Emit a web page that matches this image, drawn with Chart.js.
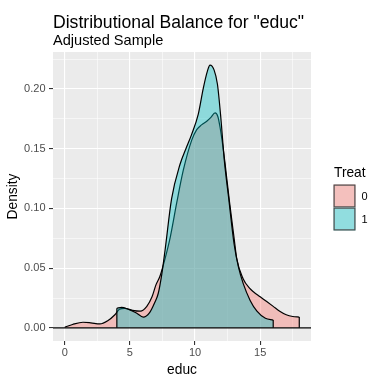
<!DOCTYPE html>
<html><head><meta charset="utf-8">
<script src="https://cdn.jsdelivr.net/npm/chart.js@4/dist/chart.umd.min.js"></script>
<style>html,body{margin:0;padding:0;background:#fff}#wrap{position:relative;width:384px;height:384px}</style>
</head><body><div id="wrap"><canvas id="c" width="384" height="384"></canvas></div>
<script>
const titleText = 'Distributional Balance for "educ"';
const subtitleText = 'Adjusted Sample';
const xLabel = 'educ';
const yLabel = 'Density';
const legendTitle = 'Treat';
const groups = ['0', '1'];

// Treat = 0 density curve
const educ0 = [0, 0.6, 1.4, 2.0, 2.7, 3.3, 3.85, 4.2, 4.6, 5.2, 5.8, 6.3, 6.7, 7.0, 7.3, 7.7, 8.1, 8.6, 9.1, 9.74, 10.13, 10.5, 10.9, 11.2, 11.54, 11.75, 11.92, 12.1, 12.3, 12.64, 13.0, 13.2, 13.7, 14.2, 14.5, 15.0, 15.5, 16.0, 16.5, 17.0, 17.5, 18.0];
const dens0 = [0.0005, 0.0028, 0.0047, 0.0042, 0.0033, 0.006, 0.011, 0.0156, 0.0164, 0.0147, 0.014, 0.018, 0.026, 0.036, 0.043, 0.058, 0.076, 0.105, 0.132, 0.157, 0.166, 0.170, 0.173, 0.176, 0.180, 0.177, 0.168, 0.155, 0.138, 0.106, 0.075, 0.058, 0.041, 0.033, 0.030, 0.026, 0.022, 0.018, 0.014, 0.011, 0.0095, 0.009];
// Treat = 1 density curve
const educ1 = [4.0, 4.36, 4.87, 5.5, 6.03, 6.5, 6.9, 7.18, 7.45, 7.7, 8.2, 8.85, 9.3, 9.74, 10.25, 10.64, 10.95, 11.15, 11.46, 11.72, 11.98, 12.25, 12.6, 13.0, 13.33, 13.7, 14.23, 14.75, 15.4, 16.0];
const dens1 = [0.0164, 0.0172, 0.0156, 0.0125, 0.009, 0.0125, 0.021, 0.029, 0.045, 0.065, 0.108, 0.137, 0.150, 0.162, 0.179, 0.201, 0.215, 0.220, 0.216, 0.204, 0.176, 0.140, 0.107, 0.070, 0.051, 0.037, 0.023, 0.014, 0.008, 0.0065];

const xMajorTicks = [0, 5, 10, 15];
const xMinorTicks = [2.5, 7.5, 12.5, 17.5];
const yMajorTicks = [0, 0.05, 0.10, 0.15, 0.20];
const yMinorTicks = [0.025, 0.075, 0.125, 0.175, 0.225];

const fillColors = ['rgba(248,118,109,0.4)', 'rgba(0,191,196,0.4)'];

const pts = (xs, ys) => xs.map((x, i) => ({x: x, y: ys[i]}));
const edge = (xs, ys, i) => [{x: xs[i], y: 0}, {x: xs[i], y: ys[i]}];
const isIn = (arr, v) => arr.some(a => Math.abs(a - v) < 1e-9);

const FONT = '"Liberation Sans", Arial, Helvetica, sans-serif';

const bgPlugin = {
  id: 'panelBg',
  beforeDraw(chart) {
    const {ctx, chartArea: a} = chart;
    ctx.save();
    ctx.fillStyle = '#EBEBEB';
    ctx.fillRect(a.left, a.top, a.right - a.left, a.bottom - a.top);
    ctx.restore();
  },
  afterDraw(chart) {
    const {ctx, chartArea: a} = chart;
    ctx.save();
    ctx.fillStyle = '#000';
    ctx.textBaseline = 'alphabetic';
    ctx.textAlign = 'left';
    ctx.font = '17.6px ' + FONT;
    ctx.fillText(titleText, a.left, 27.7);
    ctx.font = '14.6px ' + FONT;
    ctx.fillText(subtitleText, a.left, 44.5);
    // legend
    ctx.font = '13.75px ' + FONT;
    ctx.fillText(legendTitle, 334, 176.7);
    const kx = 333.5, kw = 22, kh = 23, ky0 = 184.5;
    groups.forEach((g, i) => {
      const ky = ky0 + i * kh;
      ctx.fillStyle = '#F2F2F2';
      ctx.fillRect(kx, ky, kw, kh);
      ctx.fillStyle = fillColors[i];
      ctx.fillRect(kx, ky, kw, kh);
      ctx.strokeStyle = '#4D4D4D';
      ctx.lineWidth = 1.2;
      ctx.strokeRect(kx + 0.6, ky + 0.6, kw - 1.2, kh - 1.2);
      ctx.fillStyle = '#000';
      ctx.font = '11px ' + FONT;
      ctx.textBaseline = 'middle';
      ctx.fillText(g, 361.5, ky + kh / 2 + 0.5);
      ctx.textBaseline = 'alphabetic';
    });
    ctx.restore();
  }
};

const lineBase = {
  showLine: true, pointRadius: 0, borderColor: '#000', borderWidth: 1.2,
  cubicInterpolationMode: 'monotone', fill: false
};

new Chart(document.getElementById('c'), {
  type: 'scatter',
  data: {
    datasets: [
      Object.assign({}, lineBase, {label: groups[0], data: pts(educ0, dens0), fill: 'origin', backgroundColor: fillColors[0], order: 5}),
      Object.assign({}, lineBase, {label: groups[0] + 'e', data: edge(educ0, dens0, educ0.length - 1), order: 4, cubicInterpolationMode: 'default', tension: 0}),
      Object.assign({}, lineBase, {label: groups[1], data: pts(educ1, dens1), fill: 'origin', backgroundColor: fillColors[1], order: 3}),
      Object.assign({}, lineBase, {label: groups[1] + 'a', data: edge(educ1, dens1, 0), order: 2, cubicInterpolationMode: 'default', tension: 0}),
      Object.assign({}, lineBase, {label: groups[1] + 'b', data: edge(educ1, dens1, educ1.length - 1), order: 2, cubicInterpolationMode: 'default', tension: 0}),
      Object.assign({}, lineBase, {label: 'zero', data: [{x: -0.9, y: 0}, {x: 18.9, y: 0}], order: 1, cubicInterpolationMode: 'default', tension: 0})
    ]
  },
  options: {
    responsive: false, animation: false, devicePixelRatio: 1,
    layout: {padding: {top: 52, right: 73, left: 0, bottom: 0}},
    plugins: {legend: {display: false}, tooltip: {enabled: false}, title: {display: false}},
    scales: {
      x: {
        type: 'linear', min: -0.9, max: 18.9,
        afterBuildTicks: s => { s.ticks = xMajorTicks.concat(xMinorTicks).sort((a, b) => a - b).map(v => ({value: v})); },
        afterFit: s => { s.height = 43; },
        ticks: {
          autoSkip: false, maxRotation: 0, padding: 1.5, color: '#4D4D4D',
          font: {family: FONT, size: 11},
          callback: v => isIn(xMajorTicks, v) ? String(v) : ''
        },
        grid: {
          color: '#FFFFFF', drawTicks: true, tickLength: 4, tickWidth: 1.1,
          lineWidth: c => (c.tick && isIn(xMajorTicks, c.tick.value)) ? 1.1 : 0.55,
          tickColor: c => (c.tick && isIn(xMajorTicks, c.tick.value)) ? '#333333' : 'rgba(0,0,0,0)'
        },
        border: {display: false},
        title: {display: true, text: xLabel, color: '#000', font: {family: FONT, size: 13.75}, padding: {top: 0, bottom: 5.6}}
      },
      y: {
        type: 'linear', min: -0.011, max: 0.231,
        afterBuildTicks: s => { s.ticks = yMajorTicks.concat(yMinorTicks).sort((a, b) => a - b).map(v => ({value: v})); },
        afterFit: s => { s.width = 53; },
        ticks: {
          autoSkip: false, padding: 3.5, color: '#4D4D4D',
          font: {family: FONT, size: 11},
          callback: v => isIn(yMajorTicks, v) ? v.toFixed(2) : ''
        },
        grid: {
          color: '#FFFFFF', drawTicks: true, tickLength: 4, tickWidth: 1.1,
          lineWidth: c => (c.tick && isIn(yMajorTicks, c.tick.value)) ? 1.1 : 0.55,
          tickColor: c => (c.tick && isIn(yMajorTicks, c.tick.value)) ? '#333333' : 'rgba(0,0,0,0)'
        },
        border: {display: false},
        title: {display: true, text: yLabel, color: '#000', font: {family: FONT, size: 13.75}, padding: {top: 4.6, bottom: 0}}
      }
    }
  },
  plugins: [bgPlugin]
});
</script>
</body></html>
